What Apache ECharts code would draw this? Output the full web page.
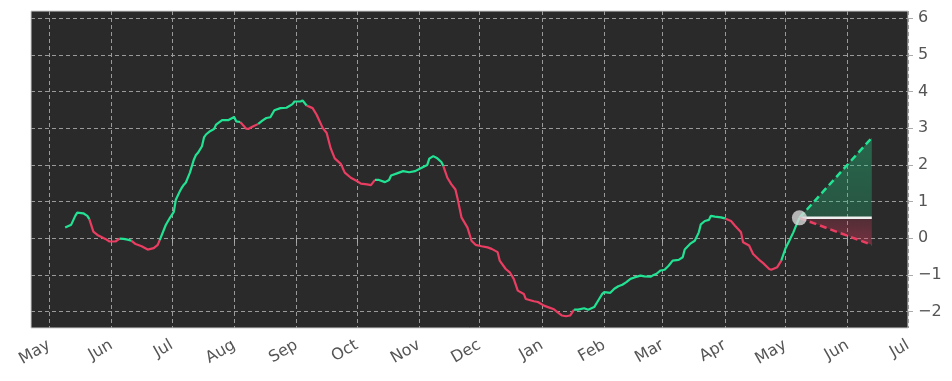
<!DOCTYPE html>
<html><head><meta charset="utf-8">
<script src="https://cdn.jsdelivr.net/npm/echarts@6/dist/echarts.min.js"></script>
<style>html,body{margin:0;padding:0;background:#fff}#c{width:952px;height:381px}</style>
</head><body><div id="c"></div><script>
// ---- data ----
const dates = [
'2023-05-09','2023-05-12','2023-05-14','2023-05-15','2023-05-18','2023-05-20','2023-05-21','2023-05-23','2023-05-25','2023-05-29',
'2023-05-31','2023-06-03','2023-06-05','2023-06-07','2023-06-09','2023-06-11','2023-06-13','2023-06-16','2023-06-19','2023-06-22',
'2023-06-24','2023-06-25','2023-06-28','2023-06-30','2023-07-02','2023-07-03','2023-07-05','2023-07-06','2023-07-07','2023-07-08',
'2023-07-10','2023-07-12','2023-07-13','2023-07-14','2023-07-16','2023-07-17','2023-07-18','2023-07-20','2023-07-22','2023-07-23',
'2023-07-26','2023-07-29','2023-08-01','2023-08-02','2023-08-04','2023-08-06','2023-08-07','2023-08-08','2023-08-10','2023-08-13',
'2023-08-15','2023-08-17','2023-08-19','2023-08-21','2023-08-24','2023-08-27','2023-08-30','2023-08-31','2023-09-03','2023-09-04',
'2023-09-06','2023-09-09','2023-09-11','2023-09-14','2023-09-16','2023-09-18','2023-09-20','2023-09-23','2023-09-25','2023-09-28',
'2023-10-01','2023-10-03','2023-10-06','2023-10-08','2023-10-10','2023-10-12','2023-10-15','2023-10-17','2023-10-18','2023-10-21',
'2023-10-24','2023-10-27','2023-10-30','2023-11-01','2023-11-05','2023-11-06','2023-11-08','2023-11-10','2023-11-12','2023-11-13',
'2023-11-15','2023-11-17','2023-11-19','2023-11-20','2023-11-22','2023-11-25','2023-11-27','2023-11-29','2023-12-02','2023-12-05',
'2023-12-07','2023-12-10','2023-12-11','2023-12-14','2023-12-16','2023-12-18','2023-12-20','2023-12-23','2023-12-24','2023-12-28',
'2023-12-30','2024-01-02','2024-01-04','2024-01-07','2024-01-09','2024-01-11','2024-01-13','2024-01-15','2024-01-17','2024-01-19',
'2024-01-22','2024-01-24','2024-01-27','2024-01-29','2024-01-31','2024-02-01','2024-02-04','2024-02-06','2024-02-08','2024-02-10',
'2024-02-12','2024-02-14','2024-02-16','2024-02-19','2024-02-21','2024-02-24','2024-02-25','2024-02-27','2024-02-29','2024-03-02',
'2024-03-04','2024-03-06','2024-03-09','2024-03-11','2024-03-12','2024-03-15','2024-03-17','2024-03-19','2024-03-20','2024-03-22',
'2024-03-24','2024-03-25','2024-03-27','2024-03-30','2024-04-01','2024-04-04','2024-04-06','2024-04-09','2024-04-10','2024-04-13',
'2024-04-15','2024-04-18','2024-04-20','2024-04-23','2024-04-24','2024-04-27','2024-04-28','2024-04-29','2024-05-01','2024-05-03',
'2024-05-05','2024-05-07','2024-05-08'
];
const values = [
0.29,0.37,0.61,0.70,0.68,0.61,0.52,0.18,0.09,-0.02,
-0.09,-0.09,-0.01,-0.02,-0.04,-0.07,-0.16,-0.22,-0.31,-0.27,
-0.18,-0.05,0.36,0.55,0.72,1.05,1.28,1.38,1.46,1.52,
1.79,2.15,2.27,2.33,2.51,2.75,2.83,2.92,2.98,3.10,
3.22,3.22,3.31,3.19,3.17,3.05,2.99,2.98,3.04,3.12,
3.21,3.28,3.30,3.49,3.55,3.56,3.66,3.73,3.73,3.76,
3.62,3.55,3.37,3.01,2.87,2.45,2.18,2.03,1.79,1.65,
1.56,1.49,1.47,1.45,1.59,1.59,1.53,1.59,1.71,1.77,
1.83,1.80,1.83,1.89,2.00,2.17,2.24,2.18,2.08,1.97,
1.65,1.47,1.33,1.10,0.57,0.29,-0.07,-0.18,-0.22,-0.25,
-0.29,-0.38,-0.61,-0.84,-0.93,-1.11,-1.43,-1.52,-1.66,-1.72,
-1.74,-1.84,-1.88,-1.94,-2.03,-2.11,-2.13,-2.11,-1.95,-1.95,
-1.91,-1.95,-1.88,-1.70,-1.52,-1.47,-1.49,-1.38,-1.31,-1.27,
-1.20,-1.11,-1.07,-1.02,-1.04,-1.05,-1.02,-0.97,-0.88,-0.86,
-0.75,-0.61,-0.59,-0.52,-0.31,-0.14,-0.07,0.16,0.38,0.47,
0.50,0.61,0.59,0.57,0.54,0.47,0.34,0.16,-0.11,-0.20,
-0.43,-0.59,-0.68,-0.84,-0.86,-0.79,-0.70,-0.61,-0.29,-0.07,
0.16,0.43,0.555
];
// trend regime (line colour) switches
const trendStarts = [
['2023-05-09','up'],['2023-05-21','down'],['2023-06-05','up'],['2023-06-11','down'],
['2023-06-25','up'],['2023-08-04','down'],['2023-08-13','up'],['2023-09-06','down'],
['2023-10-10','up'],['2023-11-13','down'],['2024-01-17','up'],['2024-04-01','down'],
['2024-04-29','up']
];
// forecast cone
const forecastDates = ['2024-05-08','2024-06-13'];
const forecastMid   = [0.555, 0.555];
const forecastHigh  = [0.555, 2.74];
const forecastLow   = [0.555, -0.18];
// axes
const axisStart = '2023-04-22', axisEnd = '2024-07-01';
const monthTicks = ['2023-05-01','2023-06-01','2023-07-01','2023-08-01','2023-09-01','2023-10-01','2023-11-01',
  '2023-12-01','2024-01-01','2024-02-01','2024-03-01','2024-04-01','2024-05-01','2024-06-01','2024-07-01'];
const monthNames = ['Jan','Feb','Mar','Apr','May','Jun','Jul','Aug','Sep','Oct','Nov','Dec'];
const yTicks = [-2,-1,0,1,2,3,4,5,6];
const yMin = -2.45, yMax = 6.2;

// ---- build ----
const toTs = s => { const [y,m,d] = s.split('-').map(Number); return new Date(y, m-1, d).getTime(); };
const ts = dates.map(toTs);
const regime = ts.map(t => { let r = 'up'; trendStarts.forEach(([d, k]) => { if (toTs(d) <= t) r = k; }); return r; });
function bandData(kind) {
  return ts.map((t, i) => {
    const starts = regime[i] === kind && i < ts.length - 1;
    const ends = i > 0 && regime[i-1] === kind;
    return [t, (starts || ends) ? values[i] : '-'];
  });
}
const fTs = forecastDates.map(toTs);
const GREEN = '#22e393', RED = '#ea3d62';
const gridStyle = { show: true, lineStyle: { color: '#9a9a9a', type: [4, 3], width: 1 } };

function conePolygon(upper, lower, colors) {
  return (params, api) => {
    const pts = [
      api.coord([fTs[0], upper[0]]),
      api.coord([fTs[1], upper[1]]),
      api.coord([fTs[1], lower[1]]),
      api.coord([fTs[0], lower[0]])
    ];
    return { type: 'polygon', shape: { points: pts }, silent: true,
      style: { fill: new echarts.graphic.LinearGradient(0, 0, 0, 1, [
        { offset: 0, color: colors[0] }, { offset: 1, color: colors[1] }]) } };
  };
}

const chart = echarts.init(document.getElementById('c'));
chart.setOption({
  animation: false,
  backgroundColor: '#ffffff',
  grid: { left: 31, right: 44, top: 11, bottom: 53, show: true, backgroundColor: '#2a2a2a', borderColor: '#cfcfcf', borderWidth: 1 },
  xAxis: {
    type: 'value', min: toTs(axisStart), max: toTs(axisEnd),
    axisLine: { show: false },
    axisTick: { show: true, length: 5, lineStyle: { color: '#aaa' }, customValues: monthTicks.map(toTs) },
    axisLabel: { rotate: 30, fontSize: 16, color: '#555', fontFamily: 'DejaVu Sans', margin: 16,
      customValues: monthTicks.map(toTs), formatter: v => monthNames[new Date(v).getMonth()] },
    splitLine: gridStyle
  },
  yAxis: {
    type: 'value', position: 'right', min: yMin, max: yMax,
    axisLine: { show: false },
    axisTick: { show: true, length: 5, lineStyle: { color: '#aaa' }, customValues: yTicks },
    axisLabel: { fontSize: 16, color: '#555', fontFamily: 'DejaVu Sans', margin: 10, customValues: yTicks,
      formatter: v => v < 0 ? '\u2212' + Math.abs(v) : String(v) },
    splitLine: gridStyle
  },
  series: [
    { type: 'custom', data: [[fTs[0], forecastMid[0]]],
      renderItem: conePolygon(forecastHigh, forecastMid, ['rgba(34,200,130,0.38)', 'rgba(34,200,130,0.27)']) },
    { type: 'custom', data: [[fTs[0], forecastMid[0]]],
      renderItem: conePolygon(forecastMid, forecastLow, ['rgba(234,61,98,0.2)', 'rgba(234,61,98,0.4)']) },
    { type: 'line', symbol: 'none', lineStyle: { color: '#f0f0f0', width: 2.5 }, data: fTs.map((t, i) => [t, forecastMid[i]]) },
    { type: 'line', symbol: 'none', lineStyle: { color: GREEN, width: 2.5, type: [7, 4] }, data: fTs.map((t, i) => [t, forecastHigh[i]]) },
    { type: 'line', symbol: 'none', lineStyle: { color: RED, width: 2.5, type: [7, 4] }, data: fTs.map((t, i) => [t, forecastLow[i]]) },
    { type: 'line', symbol: 'none', connectNulls: false, lineStyle: { color: RED, width: 2.2 }, data: bandData('down') },
    { type: 'line', symbol: 'none', connectNulls: false, lineStyle: { color: GREEN, width: 2.2 }, data: bandData('up') },
    { type: 'scatter', symbolSize: 15, itemStyle: { color: '#d8d8d8' }, z: 5,
      data: [[ts[ts.length - 1], values[values.length - 1]]] }
  ]
});
</script></body></html>
